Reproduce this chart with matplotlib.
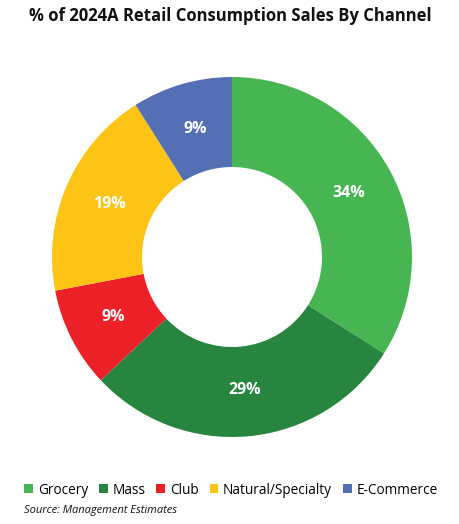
import matplotlib.pyplot as plt

channels = ['Grocery', 'Mass', 'Club', 'Natural/Specialty', 'E-Commerce']
shares = [34, 29, 9, 19, 9]
colors = ['#47B552', '#288540', '#EC2128', '#FDC315', '#556FB5']

plt.rcParams['font.family'] = ['Open Sans', 'DejaVu Sans']

fig = plt.figure(figsize=(4.6, 5.24), dpi=100)
ax = fig.add_axes([52 / 460, (267 - 180) / 524, 360 / 460, 360 / 524])

wedges, texts, autotexts = ax.pie(
    shares, colors=colors, startangle=90, counterclock=False,
    autopct='%d%%', pctdistance=0.74,
    wedgeprops=dict(width=0.5, edgecolor='none'),
    textprops=dict(color='white', fontsize=11.5, fontweight='bold'))
ax.set_xlim(-1, 1)
ax.set_ylim(-1, 1)
ax.set_aspect('equal')

fig.text(0.5, 1 - 16 / 524, '% of 2024A Retail Consumption Sales By Channel',
         ha='center', va='center', fontsize=12, fontweight='bold', color='#111111')

fig.legend(wedges, channels, loc='center', bbox_to_anchor=(231 / 460, 1 - 490 / 524),
           ncol=5, frameon=False, fontsize=9.8, handlelength=0.65, handleheight=0.65,
           handletextpad=0.35, columnspacing=0.8, borderaxespad=0)

fig.text(24 / 460, 1 - 510 / 524, 'Source: Management Estimates', ha='left', va='center',
         fontsize=8, style='italic', color='#111111')

fig.savefig('out.png', dpi=100)
